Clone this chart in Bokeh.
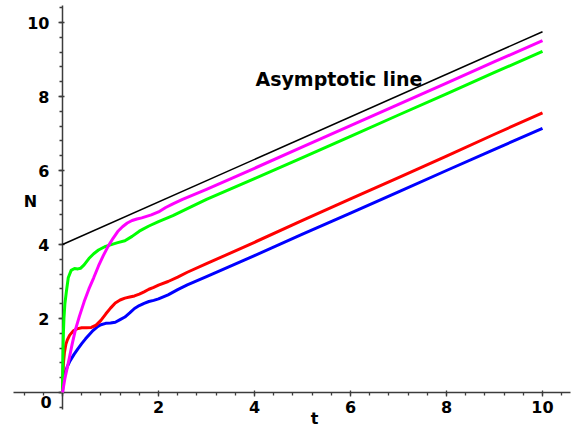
from bokeh.plotting import figure
from bokeh.models import Range1d, SingleIntervalTicker, Label
from bokeh.embed import file_html
from bokeh.resources import INLINE

# ---- data ----
asym_t = [0, 10]
asym_N = [4.0, 9.75]

blue_t = [0, 0.01, 0.03, 0.06, 0.1, 0.16, 0.24, 0.32, 0.4, 0.48, 0.56, 0.64, 0.72, 0.8,
          0.9, 1.0, 1.1, 1.2, 1.3, 1.4, 1.5, 1.6, 1.7, 1.8, 1.9, 2.0, 2.2, 2.4, 2.6,
          3, 4, 5, 6, 7, 8, 9, 10]
blue_N = [0, 0.2, 0.38, 0.55, 0.7, 0.86, 1.03, 1.18, 1.32, 1.45, 1.57, 1.68, 1.77, 1.83,
          1.87, 1.88, 1.9, 1.97, 2.04, 2.15, 2.27, 2.35, 2.41, 2.46, 2.49, 2.53, 2.64, 2.78, 2.91,
          3.13, 3.7, 4.28, 4.85, 5.42, 6.0, 6.57, 7.14]

red_t = [0, 0.01, 0.02, 0.04, 0.07, 0.1, 0.15, 0.22, 0.3, 0.4, 0.5, 0.6, 0.7, 0.8,
         0.9, 1.0, 1.1, 1.2, 1.3, 1.4, 1.5, 1.6, 1.7, 1.8, 1.9, 2.0, 2.2, 2.4, 2.6,
         3, 4, 5, 6, 7, 8, 9, 10]
red_N = [0, 0.5, 0.8, 1.08, 1.3, 1.42, 1.55, 1.66, 1.72, 1.75, 1.75, 1.76, 1.82, 1.95,
         2.12, 2.28, 2.42, 2.5, 2.55, 2.58, 2.61, 2.66, 2.72, 2.79, 2.84, 2.9, 3.0, 3.12, 3.25,
         3.48, 4.06, 4.65, 5.23, 5.81, 6.39, 6.98, 7.56]

green_t = [0, 0.005, 0.012, 0.02, 0.03, 0.05, 0.08, 0.12, 0.18, 0.25, 0.32, 0.38, 0.45,
           0.55, 0.65, 0.75, 0.88, 1.0, 1.15, 1.3, 1.45, 1.6, 1.8, 2.0, 2.3, 2.6,
           3, 4, 5, 6, 7, 8, 9, 10]
green_N = [0, 0.6, 1.2, 1.65, 2.0, 2.4, 2.72, 3.1, 3.3, 3.35, 3.34, 3.36, 3.45,
           3.62, 3.75, 3.85, 3.94, 3.99, 4.05, 4.1, 4.22, 4.36, 4.5, 4.62, 4.78, 4.97,
           5.22, 5.78, 6.35, 6.92, 7.5, 8.07, 8.65, 9.22]

magenta_t = [0, 0.02, 0.05, 0.09, 0.14, 0.2, 0.27, 0.35, 0.45, 0.55, 0.65, 0.75, 0.85,
             0.95, 1.05, 1.15, 1.25, 1.35, 1.45, 1.55, 1.65, 1.75, 1.85, 2.0, 2.15, 2.3,
             2.5, 3, 4, 5, 6, 7, 8, 9, 10]
magenta_N = [0, 0.15, 0.38, 0.62, 0.92, 1.3, 1.7, 2.05, 2.45, 2.8, 3.1, 3.42, 3.7,
             3.95, 4.16, 4.35, 4.48, 4.58, 4.65, 4.69, 4.72, 4.76, 4.8, 4.88, 5.0, 5.1,
             5.22, 5.49, 6.06, 6.64, 7.21, 7.79, 8.36, 8.94, 9.51]

x_ticks_interval = 2
y_ticks_interval = 2
x_axis_extent = (-1.021, 10.583)
y_axis_extent = (-0.46, 10.46)

FONT = "DejaVu Sans"
AXIS_COLOR = "#3c3c3c"

p = figure(width=580, height=430, output_backend="svg", toolbar_location=None,
           title=None,
           x_range=Range1d(-1.2917, 10.7917), y_range=Range1d(-1.027, 10.5946),
           min_border_left=0, min_border_right=0, min_border_top=0, min_border_bottom=0)

p.grid.visible = False
p.outline_line_color = None
p.background_fill_color = "white"
p.border_fill_color = "white"

p.xaxis.ticker = SingleIntervalTicker(interval=x_ticks_interval, num_minor_ticks=5)
p.yaxis.ticker = SingleIntervalTicker(interval=y_ticks_interval, num_minor_ticks=5)
p.xaxis.bounds = x_axis_extent
p.yaxis.bounds = y_axis_extent
for ax in (p.xaxis, p.yaxis):
    ax.fixed_location = 0
    ax.level = "underlay"
    ax.major_label_overrides = {0: ""}
    ax.axis_line_color = AXIS_COLOR
    ax.axis_line_width = 1.5
    ax.major_tick_line_color = AXIS_COLOR
    ax.minor_tick_line_color = AXIS_COLOR
    ax.major_tick_line_width = 1.3
    ax.minor_tick_line_width = 1.3
    ax.major_tick_in = 2
    ax.major_tick_out = 4
    ax.minor_tick_in = 0
    ax.minor_tick_out = 3
    ax.major_label_text_font = FONT
    ax.major_label_text_font_style = "bold"
    ax.major_label_text_font_size = "16px"
    ax.major_label_text_color = "black"
p.xaxis.major_label_standoff = 4
p.yaxis.major_label_standoff = 9

p.line(asym_t, asym_N, line_color="black", line_width=1.5)
p.line(blue_t, blue_N, line_color="#0000ff", line_width=3, line_join="round")
p.line(red_t, red_N, line_color="#ff0000", line_width=3, line_join="round")
p.line(green_t, green_N, line_color="#00ff00", line_width=3, line_join="round")
p.line(magenta_t, magenta_N, line_color="#ff00ff", line_width=3, line_join="round")

def lab(x, y, text, size, align="center", baseline="middle"):
    p.add_layout(Label(x=x, y=y, text=text, text_font=FONT, text_font_style="bold",
                       text_font_size=size, text_align=align, text_baseline=baseline,
                       text_color="black"))

lab(4.02, 8.46, "Asymptotic line", "19px", align="left", baseline="alphabetic")
lab(-0.667, 5.16, "N", "16px")
lab(5.25, -0.70, "t", "16px")
lab(-0.344, -0.257, "0", "16px")

open("out.html", "w").write(file_html(p, INLINE))
